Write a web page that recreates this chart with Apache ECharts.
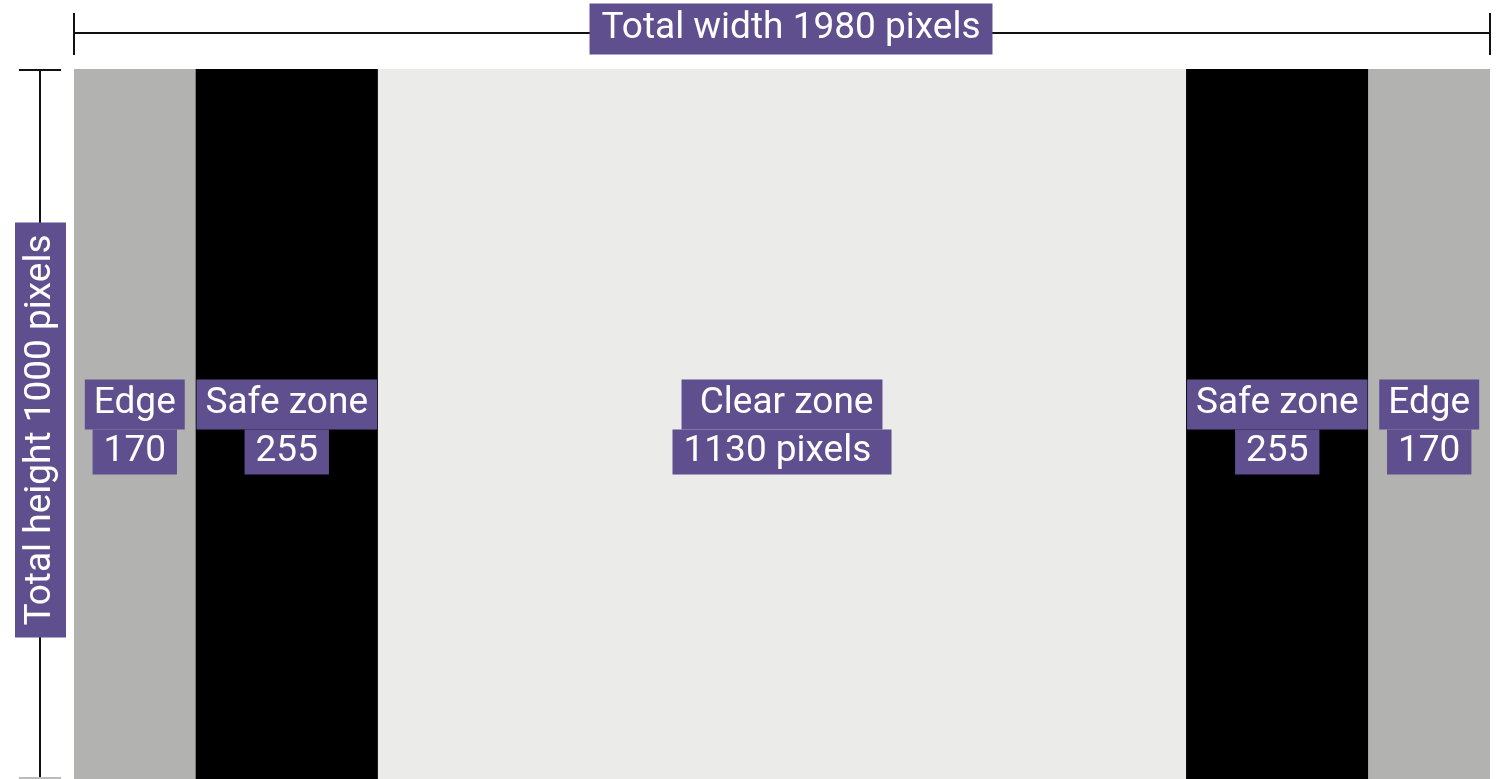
<!DOCTYPE html>
<html>
<head>
<meta charset="utf-8">
<script src="https://cdn.jsdelivr.net/npm/echarts@6/dist/echarts.min.js"></script>
<style>
  html, body { margin: 0; padding: 0; background: #fff; }
  #chart { width: 1498px; height: 779px; }
</style>
</head>
<body>
<div id="chart"></div>
<script>
// zones across the screen, left to right
const zoneNames = ["Edge", "Safe zone", " Clear zone", "Safe zone", "Edge"];
const zoneWidths = [170, 255, 1130, 255, 170];
const zoneSuffix = ["", "", " pixels ", "", ""];
const zoneColors = ["#b2b2b1", "#000000", "#ebebea", "#000000", "#b2b2b1"];
const totalWidth = 1980;
const totalHeight = 1000;

const purple = "#5f4f8e";
const font = "Roboto";
const fontSize = 37;

const chart = echarts.init(document.getElementById("chart"));

const series = zoneWidths.map((w, i) => ({
  type: "bar",
  name: zoneNames[i],
  stack: "screen",
  data: [w],
  barWidth: "100%",
  itemStyle: { color: zoneColors[i] },
  label: {
    show: true,
    position: "inside",
    offset: [0, 3],
    formatter: "{a|" + zoneNames[i] + "}\n{b|" + w + zoneSuffix[i] + "}",
    rich: {
      a: {
        color: "#fff",
        fontFamily: font,
        fontSize: fontSize,
        lineHeight: 50,
        padding: [6, 9, 7, 9],
        backgroundColor: purple,
      },
      b: {
        color: "#fff",
        fontFamily: font,
        fontSize: fontSize,
        lineHeight: 45,
        padding: [4, 11, 4, 11],
        backgroundColor: purple,
      },
    },
  },
}));

const option = {
  animation: false,
  grid: { left: 74, right: 8, top: 69, bottom: 0 },
  xAxis: {
    type: "value",
    min: 0,
    max: totalWidth,
    show: false,
  },
  yAxis: {
    type: "category",
    data: ["screen"],
    show: false,
  },
  series: series,
};

chart.setOption(option);

// dimension lines drawn from the axis ends
const x0 = chart.convertToPixel({ xAxisIndex: 0 }, 0);
const x1 = chart.convertToPixel({ xAxisIndex: 0 }, totalWidth);
const lineStyle = { stroke: "#111", lineWidth: 2 };
const lineY = 33;
const vx = 40;

chart.setOption({
  graphic: [
    { type: "line", shape: { x1: x0, y1: lineY, x2: x1, y2: lineY }, style: lineStyle },
    { type: "line", shape: { x1: x0, y1: 13, x2: x0, y2: 55 }, style: lineStyle },
    { type: "line", shape: { x1: x1, y1: 13, x2: x1, y2: 55 }, style: lineStyle },
    {
      type: "text",
      x: 791,
      y: 29,
      style: {
        text: "Total width " + totalWidth + " pixels",
        fill: "#fff",
        font: fontSize + "px " + font,
        align: "center",
        verticalAlign: "middle",
        backgroundColor: purple,
        padding: [7, 12, 7, 12],
      },
      z: 10,
    },
    { type: "line", shape: { x1: vx, y1: 70, x2: vx, y2: 779 }, style: lineStyle },
    { type: "line", shape: { x1: 19, y1: 70, x2: 61, y2: 70 }, style: lineStyle },
    { type: "line", shape: { x1: 19, y1: 778, x2: 61, y2: 778 }, style: { stroke: "#bbb", lineWidth: 2 } },
    {
      type: "text",
      x: vx + 0.5,
      y: 430,
      rotation: Math.PI / 2,
      style: {
        text: "Total height " + totalHeight + " pixels",
        fill: "#fff",
        font: fontSize + "px " + font,
        align: "center",
        verticalAlign: "middle",
        backgroundColor: purple,
        padding: [7, 12, 7, 12],
      },
      z: 10,
    },
  ],
});
</script>
</body>
</html>
